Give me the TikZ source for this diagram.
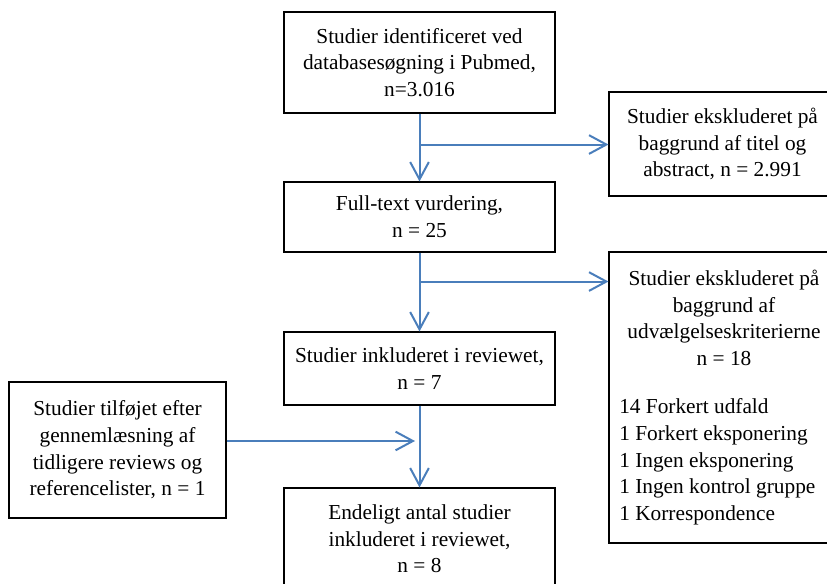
\documentclass[tikz,border=0pt]{standalone}
\usepackage{fontspec}
\setmainfont{Liberation Serif}
\usetikzlibrary{arrows.meta}
\definecolor{arrowblue}{HTML}{4A7EBB}
\begin{document}
\begin{tikzpicture}[x=0.75pt,y=-0.75pt,
  box/.style={draw,line width=0.8pt,rectangle,inner sep=0pt,align=center,font=\fontsize{16}{20}\selectfont},
  txt/.style={inner sep=0pt,font=\fontsize{16}{20}\selectfont},
  flow/.style={draw=arrowblue,line width=1.5pt,-{Straight Barb[length=13pt,width=14pt]}}]
\useasboundingbox (0,0) rectangle (827,583);
\clip (0,0) rectangle (827,583);
\node[box,minimum width=203.25pt,minimum height=75.75pt] (s1) at (419.5,62.5)
  {Studier identificeret ved\\databasesøgning i Pubmed,\\n=3.016};
\node[box,minimum width=203.25pt,minimum height=52.5pt] (s2) at (419.5,217)
  {Full-text vurdering,\\n = 25};
\node[box,minimum width=203.25pt,minimum height=54.75pt] (s3) at (419.5,368.5)
  {Studier inkluderet i reviewet,\\n = 7};
\node[box,minimum width=203.25pt,minimum height=76.5pt] (s4) at (419.5,539)
  {Endeligt antal studier\\inkluderet i reviewet,\\n = 8};
\node[box,minimum width=162.75pt,minimum height=102pt] (add) at (117.5,450)
  {Studier tilføjet efter\\gennemlæsning af\\tidligere reviews og\\referencelister, n = 1};
\node[box,minimum width=170.25pt,minimum height=78pt] (e1) at (722.5,144)
  {Studier ekskluderet på\\baggrund af titel og\\abstract, n = 2.991};
\node[box,minimum width=170.25pt,minimum height=218.25pt] (e2) at (722.5,397.5) {};
\node[txt,align=center] (e2t) at (724,318)
  {Studier ekskluderet på\\baggrund af\\udvælgelseskriterierne\\n = 18};
\node[txt,align=left,anchor=west] (e2l) at (619,462)
  {14 Forkert udfald\\1 Forkert eksponering\\1 Ingen eksponering\\1 Ingen kontrol gruppe\\1 Korrespondence};
% connectors
\draw[flow] (s1.south) -- (s2.north);
\path (s1.south) ++(0,31) coordinate (j1);
\draw[flow] (j1) -- (j1 -| e1.west);
\draw[flow] (s2.south) -- (s3.north);
\path (s2.south) ++(0,29) coordinate (j2);
\draw[flow] (j2) -- (j2 -| e2.west);
\draw[flow] (s3.south) -- (s4.north);
\path (add.east) ++(0,-9) coordinate (a1);
\coordinate (j3) at (415,441);
\draw[flow] (a1) -- (j3);
\end{tikzpicture}
\end{document}
